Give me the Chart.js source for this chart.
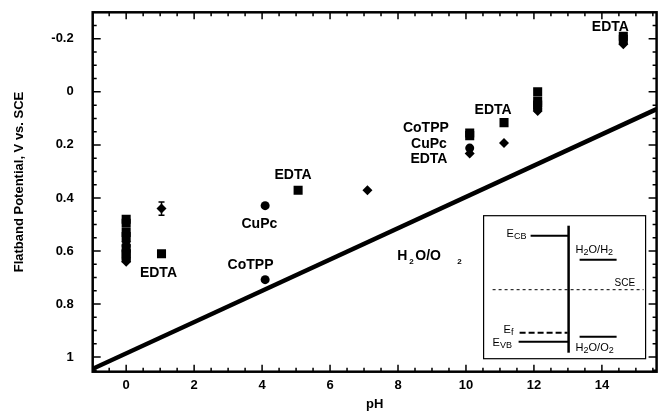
<!DOCTYPE html>
<html>
<head>
<meta charset="utf-8">
<script src="https://cdn.jsdelivr.net/npm/chart.js@4.4.0/dist/chart.umd.min.js"></script>
<style>
  html, body { margin: 0; padding: 0; background: #fff; }
  #wrap { width: 663px; height: 413px; }
</style>
</head>
<body>
<div id="wrap"><canvas id="c"></canvas></div>
<script>
/* ---------------------------------------------------
    Flatband potential vs pH
---------------------------------------------------*/

// tick labels
const xTicks = [0, 2, 4, 6, 8, 10, 12, 14];
const xTickLabels = ["0", "2", "4", "6", "8", "10", "12", "14"];
const yTicks = [-0.2, 0, 0.2, 0.4, 0.6, 0.8, 1];
const yTickLabels = ["-0.2", "0", "0.2", "0.4", "0.6", "0.8", "1"];

// H2O/O2 line (two end points)
const waterX = [-0.985, 15.61];
const waterY = [1.044, 0.065];

// squares
const squareX = [0, 0, 0, 0, 0, 0, 0, 1.04, 5.06, 10.11, 10.11, 11.12, 12.11, 12.11, 12.11, 14.63, 14.63];
const squareY = [0.48, 0.495, 0.53, 0.545, 0.59, 0.61, 0.625, 0.61, 0.371, 0.155, 0.165, 0.116, 0.0, 0.035, 0.05, -0.21, -0.198];

// circles
const circleX = [0, 0, 0, 4.09, 4.09, 10.11, 12.11, 12.11];
const circleY = [0.58, 0.60, 0.63, 0.429, 0.708, 0.212, 0.055, 0.065];

// diamonds
const diamondX = [0, 0, 1.04, 7.1, 10.11, 11.12, 12.11, 14.63];
const diamondY = [0.565, 0.64, 0.44, 0.371, 0.232, 0.193, 0.072, -0.18];

// error bar on the pH 1 diamond
const errX = [1.04];
const errLow = [0.415];
const errHigh = [0.465];

// text labels on the plot
const noteText = ["EDTA", "CoTPP", "CuPc", "EDTA", "CoTPP", "CuPc", "EDTA", "EDTA", "EDTA"];
const noteX = [0.95, 3.66, 3.92, 4.91, 8.82, 8.91, 8.91, 10.8, 14.25];
const noteY = [0.685, 0.655, 0.497, 0.313, 0.136, 0.196, 0.252, 0.068, -0.245];

function pts(xs, ys) {
    return xs.map((x, i) => ({ x: x, y: ys[i] }));
}

const FONT = '"Liberation Sans", Arial, sans-serif';

// draws frame, inward ticks, labels, notes, error bar and the inset sketch
const decorPlugin = {
    id: 'decor',
    afterDatasetsDraw(chart) {
        const ctx = chart.ctx;
        const ca = chart.chartArea;
        const xs = chart.scales.x, ys = chart.scales.y;
        ctx.save();
        ctx.strokeStyle = '#000';
        ctx.fillStyle = '#000';

        // error bar
        ctx.lineWidth = 1.5;
        errX.forEach((v, i) => {
            const px = xs.getPixelForValue(v);
            const p1 = ys.getPixelForValue(errLow[i]);
            const p2 = ys.getPixelForValue(errHigh[i]);
            ctx.beginPath();
            ctx.moveTo(px, p1); ctx.lineTo(px, p2);
            ctx.moveTo(px - 3, p1); ctx.lineTo(px + 3, p1);
            ctx.moveTo(px - 3, p2); ctx.lineTo(px + 3, p2);
            ctx.stroke();
        });

        // frame
        ctx.lineWidth = 2.5;
        ctx.strokeRect(ca.left, ca.top, ca.right - ca.left, ca.bottom - ca.top);

        // inward ticks
        ctx.lineWidth = 1.5;
        ctx.beginPath();
        for (let k = -1; k <= 31; k++) {
            const px = xs.getPixelForValue(k * 0.5);
            const len = (k % 4 === 0) ? 7 : 4;
            ctx.moveTo(px, ca.bottom); ctx.lineTo(px, ca.bottom - len);
            ctx.moveTo(px, ca.top); ctx.lineTo(px, ca.top + len);
        }
        for (let k = -5; k <= 21; k++) {
            const py = ys.getPixelForValue(k * 0.05);
            const len = (k % 4 === 0) ? 8 : 4;
            ctx.moveTo(ca.left, py); ctx.lineTo(ca.left + len, py);
            ctx.moveTo(ca.right, py); ctx.lineTo(ca.right - len, py);
        }
        ctx.stroke();

        // tick labels
        ctx.font = 'bold 13px ' + FONT;
        ctx.textBaseline = 'middle';
        ctx.textAlign = 'center';
        xTicks.forEach((v, i) => ctx.fillText(xTickLabels[i], xs.getPixelForValue(v), ca.bottom + 14));
        ctx.textAlign = 'right';
        yTicks.forEach((v, i) => ctx.fillText(yTickLabels[i], ca.left - 19, ys.getPixelForValue(v)));

        // axis titles
        ctx.textAlign = 'center';
        ctx.fillText('pH', (ca.left + ca.right) / 2, ca.bottom + 33);
        ctx.save();
        ctx.translate(19, (ca.top + ca.bottom) / 2 - 10);
        ctx.rotate(-Math.PI / 2);
        ctx.fillText('Flatband Potential, V vs. SCE', 0, 0);
        ctx.restore();

        // notes
        ctx.font = 'bold 14px ' + FONT;
        noteText.forEach((t, i) => {
            ctx.fillText(t, xs.getPixelForValue(noteX[i]), ys.getPixelForValue(noteY[i]));
        });

        // H2O/O2 label with loose subscripts
        const hx = xs.getPixelForValue(7.98), hy = ys.getPixelForValue(0.621);
        ctx.textAlign = 'left';
        ctx.fillText('H', hx, hy);
        ctx.font = 'bold 8px ' + FONT;
        ctx.fillText('2', hx + 12, hy + 5);
        ctx.font = 'bold 14px ' + FONT;
        ctx.fillText('O/O', hx + 18, hy);
        ctx.font = 'bold 8px ' + FONT;
        ctx.fillText('2', hx + 60, hy + 5);

        // inset sketch
        const bx = ca.right - 173, by = ca.bottom - 156;
        const bw = 162, bh = 143;
        ctx.fillStyle = '#fff';
        ctx.fillRect(bx, by, bw, bh);
        ctx.lineWidth = 1.2;
        ctx.strokeRect(bx, by, bw, bh);

        ctx.lineWidth = 2.5;
        ctx.beginPath();
        ctx.moveTo(bx + 85, by + 10); ctx.lineTo(bx + 85, by + 137);
        ctx.stroke();

        ctx.lineWidth = 2;
        ctx.beginPath();
        ctx.moveTo(bx + 47, by + 20); ctx.lineTo(bx + 85, by + 20);
        ctx.moveTo(bx + 96, by + 44); ctx.lineTo(bx + 133, by + 44);
        ctx.moveTo(bx + 35, by + 126); ctx.lineTo(bx + 85, by + 126);
        ctx.moveTo(bx + 96, by + 121); ctx.lineTo(bx + 133, by + 121);
        ctx.stroke();

        ctx.setLineDash([6, 3]);
        ctx.beginPath();
        ctx.moveTo(bx + 36, by + 117); ctx.lineTo(bx + 84, by + 117);
        ctx.stroke();

        ctx.lineWidth = 1;
        ctx.setLineDash([3, 3]);
        ctx.beginPath();
        ctx.moveTo(bx + 9, by + 74); ctx.lineTo(bx + 160, by + 74);
        ctx.stroke();
        ctx.setLineDash([]);

        ctx.fillStyle = '#000';
        const big = '11px ' + FONT;
        const sml = '9px ' + FONT;
        function sub(parts, x, y) {
            parts.forEach(p => {
                ctx.font = p[1] ? sml : big;
                ctx.fillText(p[0], x, y + (p[1] ? 3 : 0));
                x += ctx.measureText(p[0]).width;
            });
        }
        ctx.textAlign = 'left';
        sub([['E', false], ['CB', true]], bx + 23, by + 18);
        sub([['H', false], ['2', true], ['O/H', false], ['2', true]], bx + 92, by + 34);
        ctx.font = '10px ' + FONT;
        ctx.fillText('SCE', bx + 131, by + 68);
        sub([['E', false], ['f', true]], bx + 20, by + 114);
        sub([['E', false], ['VB', true]], bx + 9, by + 127);
        sub([['H', false], ['2', true], ['O/O', false], ['2', true]], bx + 92, by + 132);

        ctx.restore();
    }
};

const hiddenTicks = { display: false };

new Chart(document.getElementById('c'), {
    type: 'scatter',
    data: {
        datasets: [
            {
                data: pts(waterX, waterY),
                showLine: true,
                borderColor: '#000',
                borderWidth: 4.5,
                pointRadius: 0,
                order: 10
            },
            {
                data: pts(squareX, squareY),
                pointStyle: 'rect',
                pointRadius: 6.4,
                backgroundColor: '#000',
                borderColor: '#000',
                borderWidth: 0
            },
            {
                data: pts(circleX, circleY),
                pointStyle: 'circle',
                pointRadius: 4.5,
                backgroundColor: '#000',
                borderColor: '#000',
                borderWidth: 0
            },
            {
                data: pts(diamondX, diamondY),
                pointStyle: 'rectRot',
                pointRadius: 5,
                backgroundColor: '#000',
                borderColor: '#000',
                borderWidth: 0
            }
        ]
    },
    options: {
        responsive: true,
        maintainAspectRatio: false,
        animation: false,
        layout: { padding: { left: 0, right: 1.3, top: 12.3, bottom: 0 } },
        plugins: { legend: { display: false }, tooltip: { enabled: false } },
        scales: {
            x: {
                type: 'linear',
                min: -0.985,
                max: 15.61,
                grid: { display: false, drawTicks: false },
                border: { display: false },
                afterFit: s => { s.height = 41.3; },
                ticks: hiddenTicks
            },
            y: {
                type: 'linear',
                reverse: true,
                min: -0.3,
                max: 1.055,
                grid: { display: false, drawTicks: false },
                border: { display: false },
                afterFit: s => { s.width = 92.7; },
                ticks: hiddenTicks
            }
        }
    },
    plugins: [decorPlugin]
});
</script>
</body>
</html>
